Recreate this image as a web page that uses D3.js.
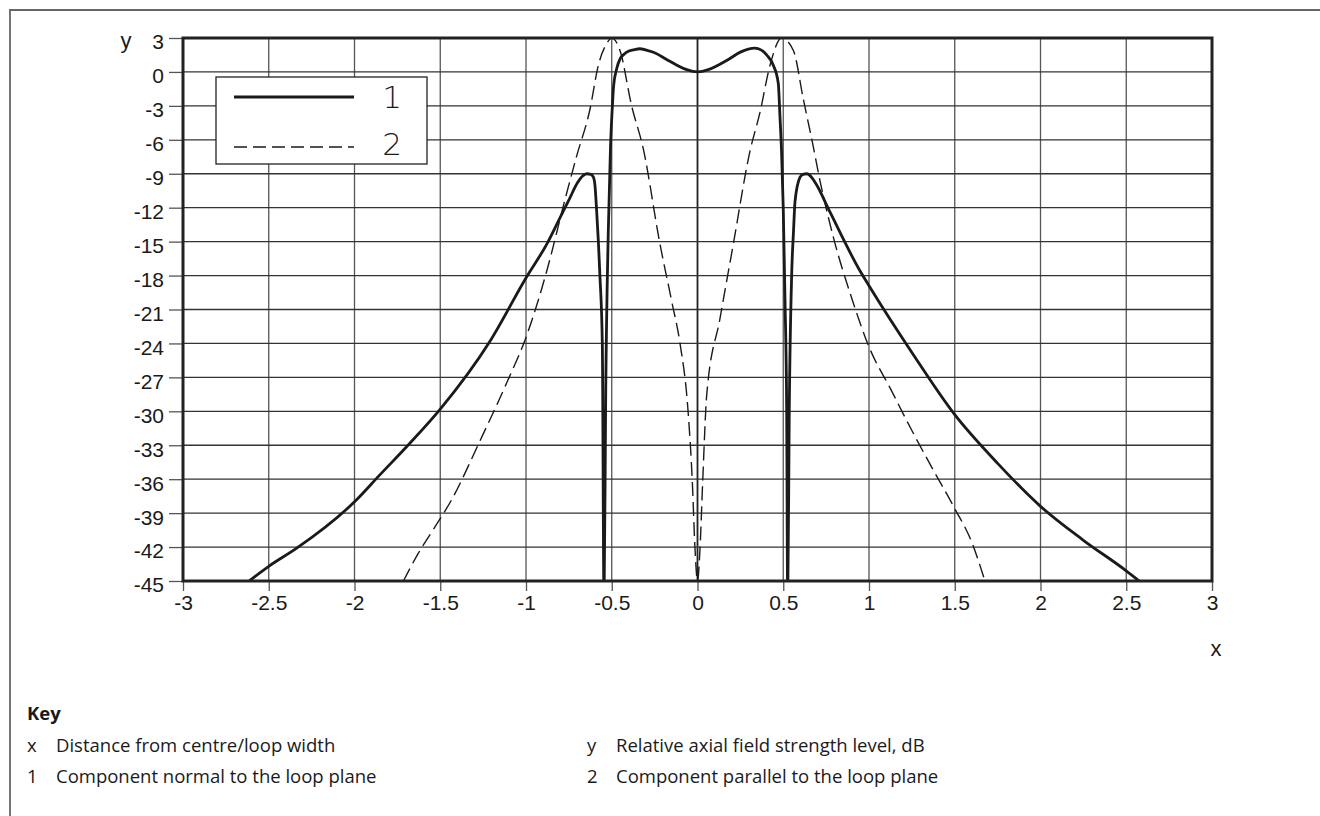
<!doctype html>
<html>
<head>
    <script src="https://d3js.org/d3.v7.min.js"></script>
    <style>
        body { margin: 0; background: #fff; }
        svg text { fill: #1a1a1a; }
        .tick text { font: 21px "Liberation Sans Narrow", sans-serif; }
        .key { font: 18.5px "Open Sans", sans-serif; }
    </style>
</head>
<body>
<script>
    // tick values
    let ticksX = [-3, -2.5, -2, -1.5, -1, -0.5, 0, 0.5, 1, 1.5, 2, 2.5, 3];
    let ticksY = [3, 0, -3, -6, -9, -12, -15, -18, -21, -24, -27, -30, -33, -36, -39, -42, -45];

    // curve 1: component normal to the loop plane
    let normalX = [-2.615, -2.5, -2.337, -2, -1.851, -1.676, -1.5, -1.21, -0.996, -0.878, -0.802, -0.743, -0.70, -0.67,
        -0.646, -0.622, -0.607, -0.598, -0.588, -0.578, -0.569, -0.555, -0.545, -0.535, -0.52, -0.507, -0.497, -0.489,
        -0.471, -0.45, -0.433, -0.40, -0.374, -0.335, -0.28, -0.25, -0.18, -0.12, -0.063, 0,
        0.063, 0.12, 0.18, 0.25, 0.335, 0.37, 0.403, 0.442, 0.471, 0.481, 0.49, 0.50, 0.51, 0.52, 0.526, 0.535,
        0.549, 0.56, 0.569, 0.598, 0.615, 0.637, 0.67, 0.695, 0.773, 0.948, 1.0, 1.25, 1.5, 1.75, 2, 2.25, 2.5, 2.576];
    let normalY = [-45, -43.7, -42.1, -38.0, -35.6, -32.8, -29.8, -23.8, -18.1, -15.2, -12.9, -11.1, -9.8, -9.2,
        -9, -9.05, -9.3, -10, -12.3, -15, -18, -24, -47, -28, -14, -6.5, -3.2, -1.2,
        0.3, 1.2, 1.5, 1.85, 1.95, 2.05, 1.85, 1.7, 1.1, 0.6, 0.2, 0,
        0.2, 0.6, 1.1, 1.75, 2.1, 1.95, 1.5, 0.6, -1, -4, -7, -12, -20, -30, -47, -30,
        -18, -14, -11.4, -9.3, -9.05, -9, -9.4, -10, -12.4, -17.6, -18.9, -24.8, -30.3, -34.6, -38.4, -41.4, -44.1, -45];

    // curve 2: component parallel to the loop plane
    let parallelX = [-1.715, -1.63, -1.53, -1.433, -1.268, -1.113, -0.996, -0.879, -0.773, -0.704, -0.627, -0.578,
        -0.53, -0.5, -0.452, -0.384, -0.316, -0.219, -0.15, -0.102, -0.055, -0.03, -0.015, 0,
        0.015, 0.03, 0.054, 0.131, 0.209, 0.306, 0.364, 0.423, 0.49, 0.559, 0.617, 0.675, 0.714, 0.792, 0.908,
        0.948, 1.0, 1.125, 1.25, 1.375, 1.5, 1.6, 1.676];
    let parallelY = [-45, -42.6, -40.2, -37.8, -32.6, -27.5, -23.3, -17.6, -11.3, -7.4, -3.3, 0.6,
        2.5, 3, 1.9, -3, -6.8, -15.2, -20.3, -24, -30, -36.3, -42, -45,
        -42, -36.3, -28.5, -21.8, -15.2, -7, -3.6, 0.6, 3, 1.9, -2.4, -6.6, -9.6, -14.6, -20.4,
        -22.2, -24.3, -28, -31.7, -35.2, -38.6, -41.6, -45];

    let width = 1320, height = 816;
    let pLeft = 183, pRight = 1212, pTop = 38, pBottom = 581;

    let svg = d3.select("body").append("svg")
        .attr("width", width)
        .attr("height", height);

    let x = d3.scaleLinear().domain([-3, 3]).range([pLeft, pRight]);
    let y = d3.scaleLinear().domain([3, -45]).range([pTop, pBottom]);

    // page frame
    svg.append("path")
        .attr("d", "M10,816V10H1320")
        .attr("fill", "none")
        .attr("stroke", "#666")
        .attr("stroke-width", 1.8);

    // grid
    svg.append("g").selectAll("line")
        .data(ticksX)
        .enter().append("line")
        .attr("x1", d => x(d)).attr("x2", d => x(d))
        .attr("y1", pTop).attr("y2", pBottom)
        .attr("stroke", d => d === 0 ? "#222" : "#555")
        .attr("stroke-width", d => d === 0 ? 1.8 : 1.3);

    svg.append("g").selectAll("line")
        .data(ticksY)
        .enter().append("line")
        .attr("x1", pLeft).attr("x2", pRight)
        .attr("y1", d => y(d)).attr("y2", d => y(d))
        .attr("stroke", "#333")
        .attr("stroke-width", 1.3);

    let fmt = d => (d < 0 ? "-" + Math.abs(d) : String(d));

    // axes, ticks outside
    let yAxis = svg.append("g")
        .attr("transform", "translate(" + pLeft + ",0)")
        .call(d3.axisLeft(y).tickValues(ticksY).tickSize(14).tickPadding(5).tickFormat(fmt));
    let xAxis = svg.append("g")
        .attr("transform", "translate(0," + pBottom + ")")
        .call(d3.axisBottom(x).tickValues(ticksX).tickSize(10).tickPadding(4).tickFormat(fmt));

    [yAxis, xAxis].forEach(a => {
        a.select(".domain").remove();
        a.selectAll(".tick line").attr("stroke", "#555").attr("stroke-width", 1.3);
        a.selectAll(".tick text").attr("fill", "#1a1a1a");
    });
    yAxis.selectAll(".tick text").attr("dy", "0.52em");

    svg.append("text").attr("x", 126).attr("y", 48)
        .attr("text-anchor", "middle")
        .style("font", "22px 'Liberation Sans Narrow', sans-serif")
        .text("y");
    svg.append("text").attr("x", 1216).attr("y", 656)
        .attr("text-anchor", "middle")
        .style("font", "22px 'Liberation Sans Narrow', sans-serif")
        .text("x");

    // curves, clipped to the plot
    svg.append("clipPath").attr("id", "plot")
        .append("rect").attr("x", pLeft).attr("y", pTop)
        .attr("width", pRight - pLeft).attr("height", pBottom - pTop);

    let line = d3.line()
        .x(d => x(d[0]))
        .y(d => y(d[1]))
        .curve(d3.curveMonotoneX);

    let curves = svg.append("g").attr("clip-path", "url(#plot)");

    curves.append("path")
        .datum(d3.zip(parallelX, parallelY))
        .attr("d", line)
        .attr("fill", "none")
        .attr("stroke", "#1a1a1a")
        .attr("stroke-width", 1.4)
        .attr("stroke-dasharray", "14,6");

    curves.append("path")
        .datum(d3.zip(normalX, normalY))
        .attr("d", line)
        .attr("fill", "none")
        .attr("stroke", "#1a1a1a")
        .attr("stroke-width", 2.8)
        .attr("stroke-linejoin", "round");

    // plot frame
    svg.append("rect")
        .attr("x", pLeft).attr("y", pTop)
        .attr("width", pRight - pLeft).attr("height", pBottom - pTop)
        .attr("fill", "none")
        .attr("stroke", "#222")
        .attr("stroke-width", 3);

    // legend
    let lg = svg.append("g");
    lg.append("rect")
        .attr("x", 216).attr("y", 77).attr("width", 211).attr("height", 87)
        .attr("fill", "#fff").attr("stroke", "#222").attr("stroke-width", 1.3);
    lg.append("line").attr("x1", 234).attr("x2", 354).attr("y1", 97).attr("y2", 97)
        .attr("stroke", "#1a1a1a").attr("stroke-width", 2.8);
    lg.append("line").attr("x1", 234).attr("x2", 354).attr("y1", 147).attr("y2", 147)
        .attr("stroke", "#1a1a1a").attr("stroke-width", 1.4).attr("stroke-dasharray", "13,6");
    lg.selectAll("text.num")
        .data(["1", "2"])
        .enter().append("text")
        .attr("x", 392)
        .attr("y", (d, i) => 108 + i * 47)
        .attr("text-anchor", "middle")
        .style("font", "200 31px 'DejaVu Sans', sans-serif")
        .text(d => d);

    // key below the chart
    let keyRows = [
        ["x", "Distance from centre/loop width", "y", "Relative axial field strength level, dB"],
        ["1", "Component normal to the loop plane", "2", "Component parallel to the loop plane"]
    ];
    svg.append("text").attr("class", "key")
        .attr("x", 27).attr("y", 720)
        .style("font-weight", "bold")
        .text("Key");
    keyRows.forEach((r, i) => {
        let yy = 752 + i * 31;
        [[27, r[0]], [56, r[1]], [587, r[2]], [616, r[3]]].forEach(c => {
            svg.append("text").attr("class", "key")
                .attr("x", c[0]).attr("y", yy).text(c[1]);
        });
    });
</script>
</body>
</html>
